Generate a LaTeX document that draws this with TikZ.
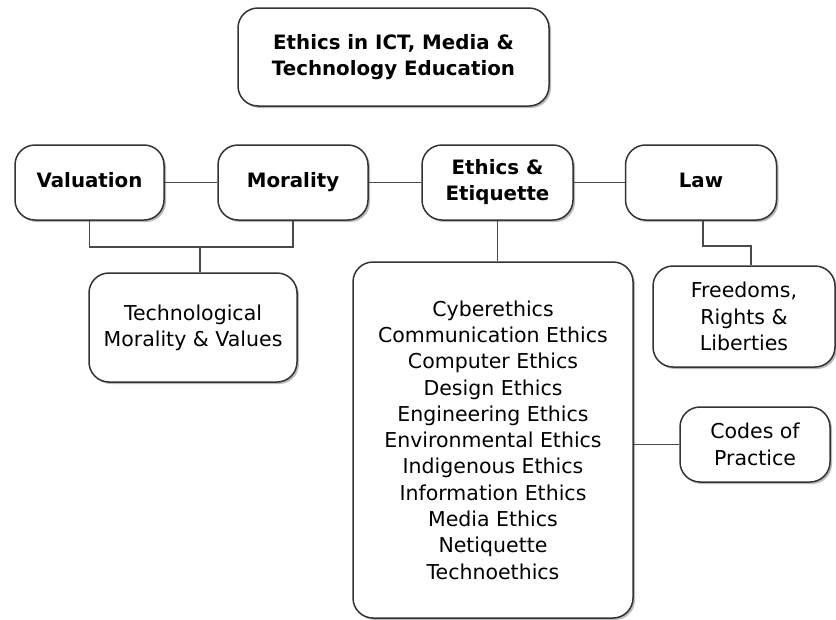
\documentclass[tikz,border=0pt]{standalone}
\usepackage{fontspec}
\setmainfont{DejaVu Sans}
\usetikzlibrary{shadows}
\definecolor{edge}{HTML}{333333}
\definecolor{wire}{HTML}{4a4a4a}
\begin{document}
\begin{tikzpicture}[x=1pt,y=-1pt,
  box/.style={draw=edge, line width=1.5pt, rounded corners=20pt, fill=white,
    align=center, inner sep=0pt,
    drop shadow={shadow xshift=2pt, shadow yshift=-2pt, fill=black!45, opacity=0.6},
    font=\fontsize{20.5}{26.3}\selectfont},
  head/.style={box, font=\fontsize{19.8}{26}\selectfont\bfseries},
  wire/.style={draw=wire, line width=1.6pt}]
\useasboundingbox (0,0) rectangle (836,619);

% top title
\node[head, minimum width=311pt, minimum height=98pt] (title) at (393.5,57)
  {Ethics in ICT, Media \&\\Technology Education};

% main row
\node[head, minimum width=149pt, minimum height=75pt] (val) at (89.5,182.5) {\vphantom{Ay}Valuation};
\node[head, minimum width=150pt, minimum height=75pt] (mor) at (293,182.5) {\vphantom{Ay}Morality};
\node[head, minimum width=151pt, minimum height=75pt] (ee) at (497.5,182.5) {Ethics \&\\Etiquette};
\node[head, minimum width=151pt, minimum height=75pt] (law) at (701,182.5) {\vphantom{Ay}Law};

% lower boxes
\node[box, minimum width=208pt, minimum height=109pt] (tech) at (193,327.5)
  {Technological\\Morality \& Values};
\node[box, minimum width=280pt, minimum height=356pt] (fields) at (493,440)
  {Cyberethics\\Communication Ethics\\Computer Ethics\\Design Ethics\\Engineering Ethics\\Environmental Ethics\\Indigenous Ethics\\Information Ethics\\Media Ethics\\Netiquette\\Technoethics};
\node[box, minimum width=182pt, minimum height=101pt] (free) at (744,316.5)
  {Freedoms,\\Rights \&\\Liberties};
\node[box, minimum width=150pt, minimum height=75pt] (codes) at (755,444.5)
  {Codes of\\Practice};

% connectors
\draw[wire] (val.east) -- (mor.west);
\draw[wire] (mor.east) -- (ee.west);
\draw[wire] (ee.east) -- (law.west);
\draw[wire] (val.south) -- ++(0,26) -| (mor.south);
\coordinate (vm) at (200,246);
\draw[wire] (vm) -- (vm |- tech.north);
\draw[wire] (ee.south) -- (ee.south |- fields.north);
\draw[wire] ([xshift=2pt]law.south) -- ++(0,25) -| ([xshift=7pt]free.north);
\draw[wire] (codes.west) -- (codes.west -| fields.east);
\end{tikzpicture}
\end{document}
